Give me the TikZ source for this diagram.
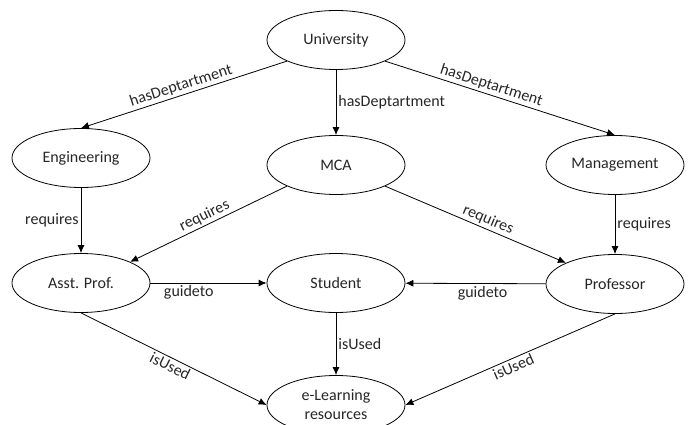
\documentclass[tikz,border=0pt]{standalone}
\usepackage{fontspec}
\setmainfont{Carlito}
\usetikzlibrary{shapes.geometric, positioning, arrows.meta}
\tikzset{
>={Latex[length=8pt,width=7pt]}, % small filled arrow heads
every node/.style={font=\fontsize{16}{19}\selectfont, text=black!85, inner sep=2pt}, % text of all nodes
concept/.style={draw, ellipse, line width=0.8pt, minimum width=138pt, minimum height=59pt, align=center}, % the ellipses
rel/.style={->, line width=0.8pt}, % the directed edges
}

\begin{document}
\begin{tikzpicture}[x=1pt, y=1pt]
                \useasboundingbox (0,0) rectangle (688,-425);

                \node[concept] (univ) at (336,-40) {University};
                \node[concept, node distance=125pt, below of=univ] (mca) {MCA};
                \node[concept, node distance=255pt, left of=mca, yshift=7pt] (eng) {Engineering};
                \node[concept, node distance=279pt, right of=mca] (mgmt) {Management};
                \node[concept, node distance=125pt, below of=eng] (asst) {Asst. Prof.};
                \node[concept, node distance=118pt, below of=mca] (student) {Student};
                \node[concept, node distance=119pt, below of=mgmt] (prof) {Professor};
                \node[concept, node distance=122pt, below of=student] (elearn) {e-Learning\\resources};

                \draw[rel] (univ.south west) -- node[above, sloped] {hasDeptartment} (eng.north);
                \draw[rel] (univ.south) -- node[right] {hasDeptartment} (mca.north);
                \draw[rel] (univ.south east) -- node[above, sloped, pos=0.45] {hasDeptartment} (mgmt.north);
                \draw[rel] (eng) -- node[left] {requires} (asst);
                \draw[rel] (mca.south west) -- node[above, sloped] {requires} (asst.north east);
                \draw[rel] (mca.south east) -- node[above, sloped, pos=0.55] {requires} (prof.north west);
                \draw[rel] (mgmt) -- node[right] {requires} (prof);
                \draw[rel] (asst) -- node[below, pos=0.33] {guideto} (student);
                \draw[rel] (prof) -- node[below, pos=0.45] {guideto} (student);
                \draw[rel] (student) -- node[right] {isUsed} (elearn);
                \draw[rel] (asst.south) -- node[below, sloped] {isUsed} (elearn.west);
                \draw[rel] (prof.south) -- node[below, sloped] {isUsed} (elearn.east);
\end{tikzpicture}
\end{document}
